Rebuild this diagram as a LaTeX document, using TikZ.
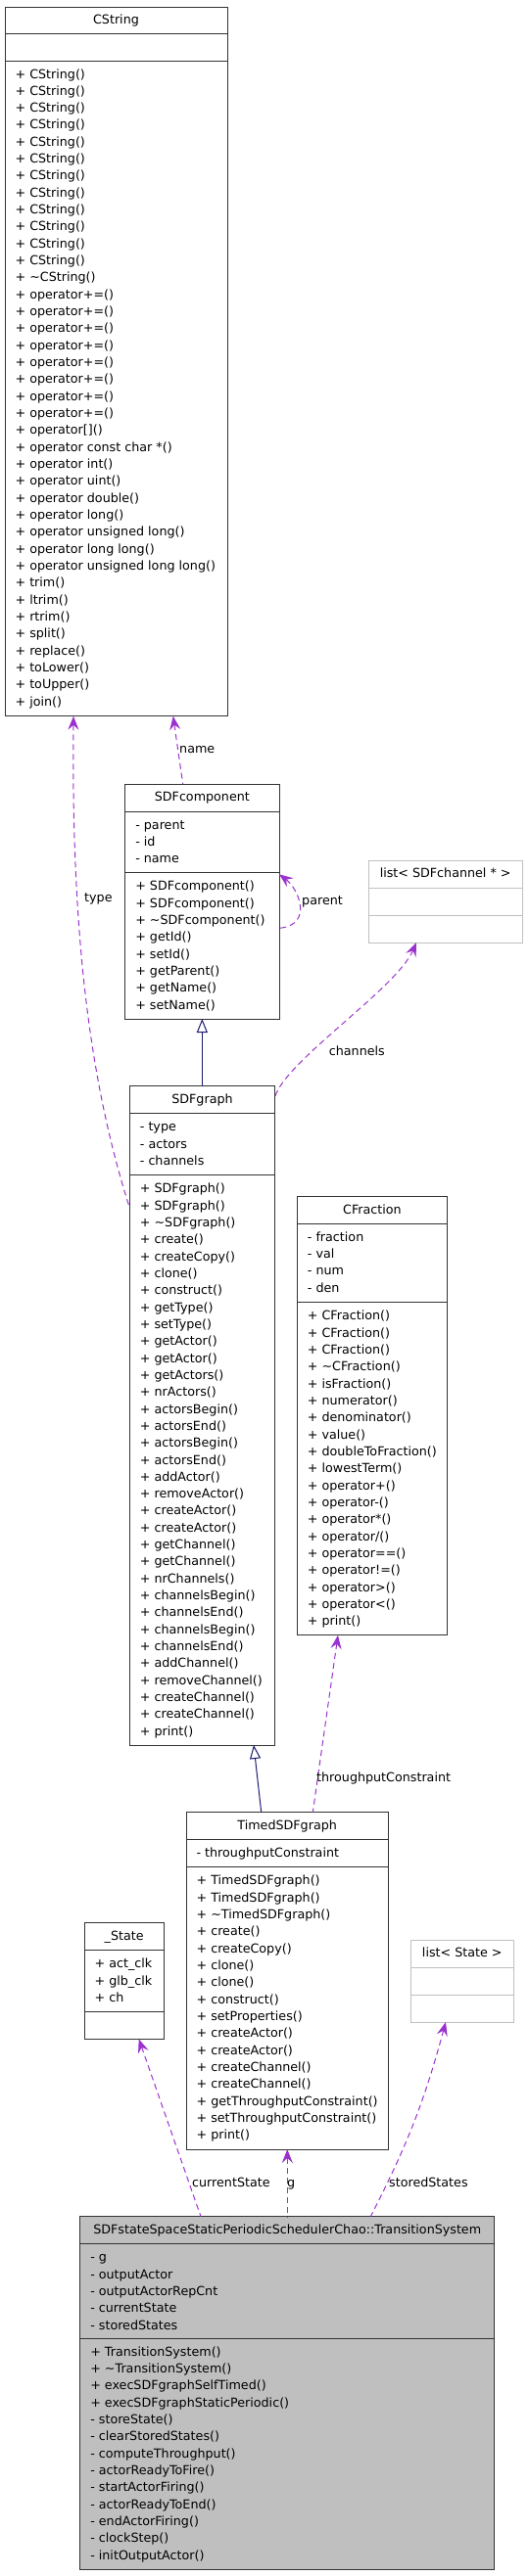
\documentclass[tikz,border=0pt]{standalone}
\usepackage{fontspec}
\setmainfont{DejaVu Sans}
\usetikzlibrary{arrows.meta}
\definecolor{usecol}{HTML}{9A32CD}
\definecolor{inhcol}{HTML}{191970}
\definecolor{listgray}{HTML}{C0C0C0}
\definecolor{tsfill}{HTML}{BFBFBF}
\newcommand{\umlfont}{\fontsize{12.7}{17.33}\selectfont}
\newcommand{\umlclass}[9]{%
  \pgfmathsetmacro{\umlW}{#4-#2}%
  \pgfmathsetmacro{\umlH}{#5-#3}%
  \node[#8, minimum width=\umlW pt, minimum height=\umlH pt, anchor=north west] (#1) at (#2,#3) {};
  \draw[#8 sep] (#2,#6) -- (#4,#6) (#2,#7) -- (#4,#7);
  \node[titletext] (#1-title) at ({(#2+#4)/2}, #3+17.8) {#9};
}
\newcommand{\umllines}[4]{%
  \foreach \umlt [count=\umli from 0] in {#4} {
    \node[linetext] (#1-\umli) at (#2, #3+17.33*\umli) {\umlt};
  }
}
\tikzset{
  classbox/.style={draw=black!80, line width=1pt, fill=white, inner sep=0pt, outer sep=0pt, rectangle},
  classbox sep/.style={draw=black!80, line width=1pt},
  listbox/.style={draw=listgray, line width=1pt, fill=white, inner sep=0pt, outer sep=0pt, rectangle},
  listbox sep/.style={draw=listgray, line width=1pt},
  tsbox/.style={classbox, fill=tsfill},
  tsbox sep/.style={classbox sep},
  titletext/.style={anchor=base, inner sep=0pt, font=\umlfont},
  linetext/.style={anchor=base west, inner sep=0pt, font=\umlfont},
  lbl/.style={anchor=base west, inner sep=0pt, font=\umlfont},
  use/.style={draw=usecol, line width=1pt, dash pattern=on 6pt off 4pt, {Stealth[length=14pt,width=11pt,inset=5pt]}-},
  inh/.style={draw=inhcol, line width=1pt, {Triangle[open,length=14pt,width=11pt,fill=white]}-}
}
\begin{document}
\begin{tikzpicture}[x=1pt,y=-1pt]
\useasboundingbox (0,0) rectangle (539,2632);

% CString
\umlclass{cstring}{5}{7}{232}{731.7}{34}{62}{classbox}{CString}
\umllines{cs-m}{15.4}{80}{{+ CString()},{+ CString()},{+ CString()},{+ CString()},{+ CString()},{+ CString()},{+ CString()},{+ CString()},{+ CString()},{+ CString()},{+ CString()},{+ CString()},{+ \textasciitilde CString()},{+ operator+=()},{+ operator+=()},{+ operator+=()},{+ operator+=()},{+ operator+=()},{+ operator+=()},{+ operator+=()},{+ operator+=()},{+ operator[]()},{+ operator const char *()},{+ operator int()},{+ operator uint()},{+ operator double()},{+ operator long()},{+ operator unsigned long()},{+ operator long long()},{+ operator unsigned long long()},{+ trim()},{+ ltrim()},{+ rtrim()},{+ split()},{+ replace()},{+ toLower()},{+ toUpper()},{+ join()}}

% SDFcomponent
\umlclass{sdfcomp}{127.7}{801}{285}{1041}{829.3}{891.7}{classbox}{SDFcomponent}
\umllines{sc-a}{138.1}{847.3}{{- parent},{- id},{- name}}
\umllines{sc-m}{138.1}{909.7}{{+ SDFcomponent()},{+ SDFcomponent()},{+ \textasciitilde SDFcomponent()},{+ getId()},{+ setId()},{+ getParent()},{+ getName()},{+ setName()}}

% list< SDFchannel * >
\umlclass{lista}{376}{879}{533.3}{963}{907}{935}{listbox}{list< SDFchannel * >}

% SDFgraph
\umlclass{sdfgraph}{132.3}{1109.7}{280.7}{1783}{1137.7}{1200.7}{classbox}{SDFgraph}
\umllines{sg-a}{142.7}{1155.7}{{- type},{- actors},{- channels}}
\umllines{sg-m}{142.7}{1218.7}{{+ SDFgraph()},{+ SDFgraph()},{+ \textasciitilde SDFgraph()},{+ create()},{+ createCopy()},{+ clone()},{+ construct()},{+ getType()},{+ setType()},{+ getActor()},{+ getActor()},{+ getActors()},{+ nrActors()},{+ actorsBegin()},{+ actorsEnd()},{+ actorsBegin()},{+ actorsEnd()},{+ addActor()},{+ removeActor()},{+ createActor()},{+ createActor()},{+ getChannel()},{+ getChannel()},{+ nrChannels()},{+ channelsBegin()},{+ channelsEnd()},{+ channelsBegin()},{+ channelsEnd()},{+ addChannel()},{+ removeChannel()},{+ createChannel()},{+ createChannel()},{+ print()}}

% CFraction
\umlclass{cfrac}{303.3}{1222.3}{456.7}{1670.7}{1250.3}{1330.7}{classbox}{CFraction}
\umllines{cf-a}{313.7}{1268.3}{{- fraction},{- val},{- num},{- den}}
\umllines{cf-m}{313.7}{1348.7}{{+ CFraction()},{+ CFraction()},{+ CFraction()},{+ \textasciitilde CFraction()},{+ isFraction()},{+ numerator()},{+ denominator()},{+ value()},{+ doubleToFraction()},{+ lowestTerm()},{+ operator+()},{+ operator-()},{+ operator*()},{+ operator/()},{+ operator==()},{+ operator!=()},{+ operator>()},{+ operator<()},{+ print()}}

% TimedSDFgraph
\umlclass{timed}{190}{1851.7}{396.3}{2196}{1879.7}{1907.7}{classbox}{TimedSDFgraph}
\umllines{ts-a}{200.4}{1897.7}{{- throughputConstraint}}
\umllines{tg-m}{200.4}{1925.7}{{+ TimedSDFgraph()},{+ TimedSDFgraph()},{+ \textasciitilde TimedSDFgraph()},{+ create()},{+ createCopy()},{+ clone()},{+ clone()},{+ construct()},{+ setProperties()},{+ createActor()},{+ createActor()},{+ createChannel()},{+ createChannel()},{+ getThroughputConstraint()},{+ setThroughputConstraint()},{+ print()}}

% _State
\umlclass{state}{86}{1964.7}{167.3}{2083.3}{1992.7}{2055.3}{classbox}{\_State}
\umllines{st-a}{96.4}{2010.7}{{+ act\_clk},{+ glb\_clk},{+ ch}}

% list< State >
\umlclass{listb}{419.3}{1982}{524.3}{2066}{2010}{2038}{listbox}{list< State >}

% TransitionSystem
\umlclass{ts}{81.7}{2264.7}{504.7}{2625.7}{2292.7}{2389.3}{tsbox}{SDFstateSpaceStaticPeriodicSchedulerChao::TransitionSystem}
\umllines{tr-a}{92.1}{2310.7}{{- g},{- outputActor},{- outputActorRepCnt},{- currentState},{- storedStates}}
\umllines{tr-m}{92.1}{2407.3}{{+ TransitionSystem()},{+ \textasciitilde TransitionSystem()},{+ execSDFgraphSelfTimed()},{+ execSDFgraphStaticPeriodic()},{- storeState()},{- clearStoredStates()},{- computeThroughput()},{- actorReadyToFire()},{- startActorFiring()},{- actorReadyToEnd()},{- endActorFiring()},{- clockStep()},{- initOutputActor()}}

% connectors
\draw[use] ([xshift=171.7pt]cstring.south west) -- ([xshift=59pt]sdfcomp.north west);
\draw[use] ([xshift=70pt]cstring.south west) .. controls +(-2,218) and +(-42,-132) .. ([yshift=-124.3pt]sdfgraph.north west);
\draw[use] ([yshift=-92.3pt]sdfcomp.north east) .. controls +(20,15) and +(35,-3) .. ([yshift=-147.3pt]sdfcomp.north east);
\draw[use] ([xshift=49pt]lista.south west) .. controls +(-20,47) and +(9.3,-36) .. ([yshift=-11.3pt]sdfgraph.north east);
\draw[inh] (sdfcomp.south) -- (sdfcomp.south |- sdfgraph.north);
\draw[inh] ([xshift=126.7pt]sdfgraph.south west) -- ([xshift=76.7pt]timed.north west);
\draw[use] ([xshift=41.7pt]cfrac.south west) -- ([xshift=129.3pt]timed.north west);
\draw[use] ([xshift=55.7pt]state.south west) -- ([xshift=123.3pt]ts.north west);
\draw[use] ([xshift=103.3pt]timed.south west) -- ([xshift=211.6pt]ts.north west);
\draw[use] ([xshift=35.7pt]listb.south west) to[bend left=6] ([xshift=296.6pt]ts.north west);

% connector labels
\node[lbl] (l-name) at (183,769.3) {name};
\node[lbl] (l-type) at (86,921.7) {type};
\node[lbl] (l-parent) at (308,924.3) {parent};
\node[lbl] (l-channels) at (335.7,1078.3) {channels};
\node[lbl] (l-tc) at (323,1820.7) {throughputConstraint};
\node[lbl] (l-cs) at (196,2234) {currentState};
\node[lbl] (l-g) at (293,2234) {g};
\node[lbl] (l-ss) at (397,2234) {storedStates};
\end{tikzpicture}
\end{document}
